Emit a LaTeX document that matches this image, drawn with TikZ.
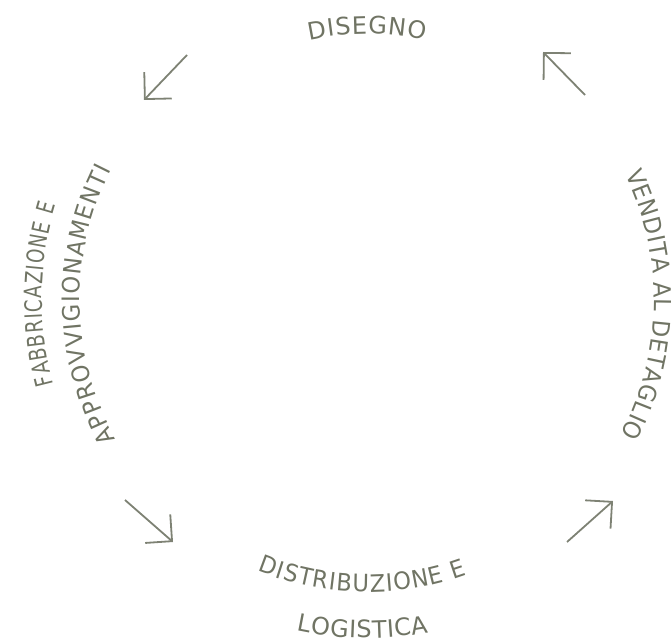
\documentclass[tikz,border=0pt]{standalone}
\usepackage{fontspec}
\setmainfont{DejaVu Sans}
\newfontfamily{\lblwide}{DejaVu Sans}
\newfontfamily{\lblmid}[FakeStretch=0.94]{DejaVu Sans}
\newfontfamily{\lblnarrow}[FakeStretch=0.76]{DejaVu Sans}
\usetikzlibrary{decorations.text,arrows.meta}
\definecolor{labelgray}{RGB}{112,116,100}

\begin{document}
\fontsize{24}{28}\selectfont
\begin{tikzpicture}[x=1pt, y=1pt,
    lbl/.style={decorate, decoration={text along path, text align=fit to path, text color=labelgray}},
    cyc/.style={-{Straight Barb[length=19pt, width=38pt]}, line width=1.8pt, draw=labelgray!90}]
    \useasboundingbox (0,0) rectangle (671,643);
    \coordinate (c) at (367,343);
    % labels round the cycle
    \path[lbl, decoration={text={|\lblwide|DISEGNO}}] (c) ++(102.5:266pt) arc[start angle=102.5, end angle=77.5, radius=266pt];
    \path[lbl, decoration={text={|\lblnarrow|FABBRICAZIONE E}}] (c) ++(195:325pt) arc[start angle=195, end angle=163, radius=325pt];
    \path[lbl, decoration={text={|\lblmid|APPROVVIGIONAMENTI}}] (c) ++(209:287pt) arc[start angle=209, end angle=153, radius=287pt];
    \path[lbl, decoration={text={|\lblmid|DISTRIBUZIONE E}}] (c) ++(248:292pt) arc[start angle=248, end angle=290, radius=292pt];
    \path[lbl, decoration={text={|\lblwide|LOGISTICA}}] (c) ++(258:338pt) arc[start angle=258, end angle=280.5, radius=338pt];
    \path[lbl, decoration={text={|\lblmid|VENDITA AL DETAGLIO}}] (c) ++(26:287pt) arc[start angle=26, end angle=-28, radius=287pt];
    % arrows
    \coordinate (tl1) at (187,588);
    \coordinate (tl2) at (144,543);
    \coordinate (bl1) at (125,143);
    \coordinate (bl2) at (173,101);
    \coordinate (br1) at (567,101);
    \coordinate (br2) at (613,142);
    \coordinate (tr1) at (585,548);
    \coordinate (tr2) at (543,591);
    \draw[cyc] (tl1) -- (tl2);
    \draw[cyc] (bl1) -- (bl2);
    \draw[cyc] (br1) -- (br2);
    \draw[cyc] (tr1) -- (tr2);
\end{tikzpicture}
\end{document}
